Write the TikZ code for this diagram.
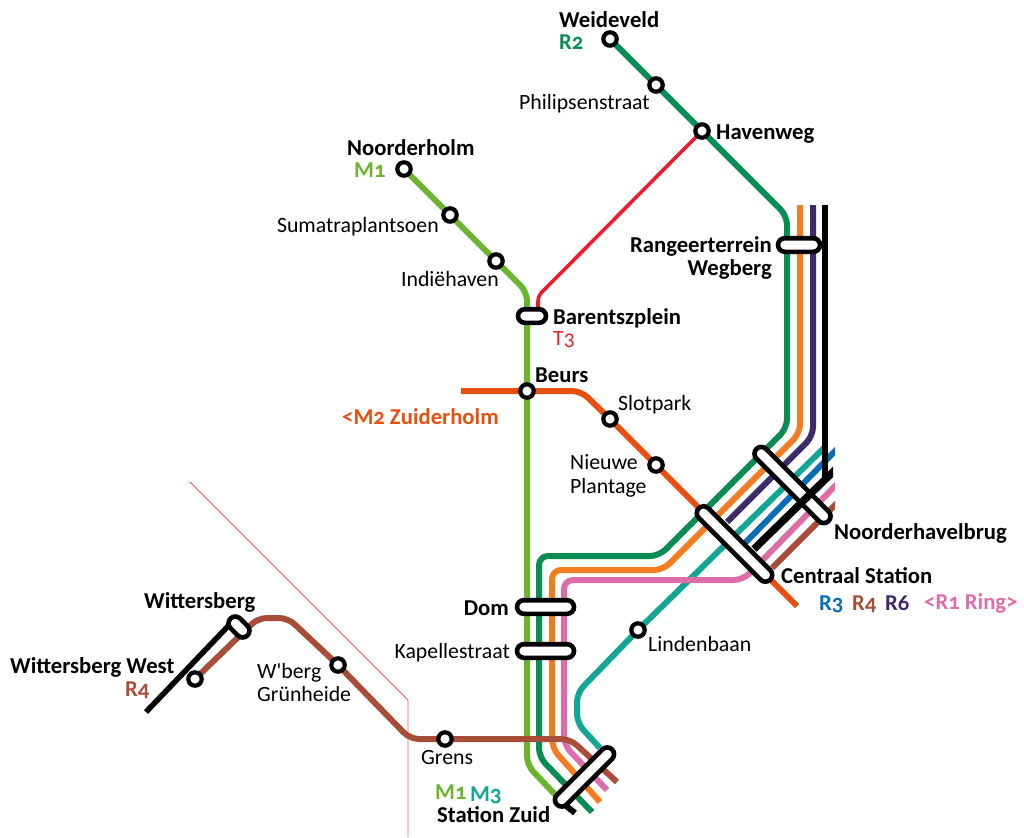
\documentclass[tikz,border=0pt]{standalone}
\usepackage{fontspec}
\newfontfamily\mapfont[Numbers=OldStyle]{Carlito}
\usetikzlibrary{calc}
\definecolor{cGreen}{HTML}{0A8C55}
\definecolor{cLime}{HTML}{6BB42E}
\definecolor{cOrange}{HTML}{F47C20}
\definecolor{cPurple}{HTML}{3C2A6B}
\definecolor{cTeal}{HTML}{14A695}
\definecolor{cBlue}{HTML}{0B6DB5}
\definecolor{cPink}{HTML}{DC6DA9}
\definecolor{cBrown}{HTML}{A84E38}
\definecolor{cRed}{HTML}{EC1C2A}
\definecolor{cMtwo}{HTML}{E6500F}
\tikzset{
 x=1pt,y=-1pt,
 line/.style={line width=6pt,rounded corners=9pt},
 stn/.style={circle,draw=black,fill=white,line width=4.2pt,minimum size=13.4pt,inner sep=0pt},
 bar/.style={rectangle,draw=black,fill=white,line width=4.6pt,minimum height=13.6pt,inner sep=0pt,rounded corners=6.8pt},
 lab/.style={font=\mapfont\fontsize{21.8}{26}\selectfont,inner sep=0pt,text=black,yshift=-0.8pt},
 labl/.style={lab,anchor=base west},
 labr/.style={lab,anchor=base east},
 bold/.style={font=\mapfont\fontsize{22.7}{26}\selectfont\bfseries},
}
\begin{document}
\begin{tikzpicture}
\useasboundingbox (0,0) rectangle (1024,837);
% station positions
\coordinate (pWeide) at (610,39);
\coordinate (pPhil) at (656,85);
\coordinate (pHaven) at (702,131);
\coordinate (pNoorder) at (404,169);
\coordinate (pSuma) at (450,215);
\coordinate (pIndie) at (496,261);
\coordinate (pBeurs) at (527,391);
\coordinate (pSlot) at (610,419);
\coordinate (pNieuwe) at (656,465);
\coordinate (pLinden) at (638,630);
\coordinate (pGrens) at (445,739);
\coordinate (pGrun) at (338,665);
\coordinate (pWest) at (195,679);
% border
\coordinate (b1) at (190,482);
\coordinate (b2) at (408,700);
\coordinate (b3) at (408,837);
\draw[line width=0.8pt,cRed!75] (b1) -- (b2) -- (b3);
% red
\coordinate (t1) at (538,296);
\coordinate (t2) at (538,316);
\draw[line,cRed,line width=3.6pt,rounded corners=5pt] (pHaven) -- (t1) -- (t2);
% M2
\coordinate (m1) at (461,391);
\coordinate (m2) at (581,391);
\coordinate (m3) at (797,606);
\draw[line,cMtwo] (m1) -- (m2) -- (pSlot) -- (pNieuwe) -- (m3);
% M1
\coordinate (l1) at (527,292);
\coordinate (l2) at (527,765);
\coordinate (l3) at (565,805);
\draw[line,cLime] (pNoorder) -- (pSuma) -- (pIndie) -- (l1) -- (pBeurs) -- (l2) -- (l3);
% green R2
\coordinate (g1) at (787,216);
\coordinate (g2) at (787,428);
\coordinate (g3) at (659,556);
\coordinate (g4) at (539,556);
\coordinate (g5) at (539,757);
\coordinate (g6) at (592,812);
\draw[line,cGreen] (pWeide) -- (pPhil) -- (pHaven) -- (g1) -- (g2) -- (g3) -- (g4) -- (g5) -- (g6);
% orange
\coordinate (o1) at (800,205);
\coordinate (o2) at (800,433);
\coordinate (o3) at (663,570);
\coordinate (o4) at (552,570);
\coordinate (o5) at (552,748);
\coordinate (o6) at (600,802);
\draw[line,cOrange] (o1) -- (o2) -- (o3) -- (o4) -- (o5) -- (o6);
% purple
\coordinate (u1) at (813,205);
\coordinate (u2) at (813,436);
\coordinate (u3) at (727,522);
\draw[line,cPurple] (u1) -- (u2) -- (u3);
% teal
\coordinate (e1) at (826,446);
\coordinate (e2) at (577,693);
\coordinate (e3) at (577,723);
\coordinate (e4) at (600,748);
\draw[line,cTeal] (e1) -- (pLinden) -- (e2) -- (e3) -- (e4);
% ends cut off vertically on the right
\begin{scope}
\clip (0,0) rectangle (835,837);
\coordinate (c1) at (840,446);
\coordinate (c2) at (745,543);
\draw[line,cBlue] (c1) -- (c2);
\coordinate (k1) at (840,481);
\coordinate (k2) at (743,580);
\coordinate (k3) at (564,580);
\coordinate (k4) at (564,745);
\coordinate (k5) at (607,790);
\draw[line,cPink] (k1) -- (k2) -- (k3) -- (k4) -- (k5);
\coordinate (r1) at (840,500);
\coordinate (r2) at (772,568);
\draw[line,cBrown] (r1) -- (r2);
\end{scope}
% brown R4
\coordinate (r3) at (258,618);
\coordinate (r4) at (288,618);
\coordinate (r5) at (410,739);
\coordinate (r6) at (570,739);
\coordinate (r7) at (617,782);
\draw[line,cBrown] (pWest) -- (r3) -- (r4) -- (pGrun) -- (r5) -- (pGrens) -- (r6) -- (r7);
% black R6 stub at Zuid
\coordinate (z1) at (565,805);
\coordinate (z2) at (575,813);
\draw[line,black,line width=6pt] (z1) -- (z2);
% black Wittersberg
\coordinate (w1) at (146,712);
\coordinate (w2) at (233,621);
\draw[line,black,line width=5.5pt] (w1) -- (w2);
% bars below black
\node[bar,minimum width=42pt] (rang) at (799,245) {};
\node[bar,minimum width=28pt] (bar) at (532,316) {};
\node[bar,minimum width=57pt] (dom) at (545.5,607) {};
\node[bar,minimum width=57pt] (kap) at (545.5,651) {};
\node[bar,minimum width=102pt,rotate=-45] (hav) at (792.5,485) {};
\node[bar,minimum width=78pt,rotate=45] (zuid) at (584.5,777) {};
\node[bar,minimum width=24pt,rotate=-45] (witt) at (239,627) {};
% black main
\coordinate (a1) at (825,205);
\coordinate (a2) at (825,478);
\coordinate (a3) at (840,465);
\coordinate (a4) at (754,549);
\draw[black,line width=6pt] (a1) -- (a2);
\begin{scope}
\clip (0,0) rectangle (833,837);
\draw[black,line width=7.5pt] (a3) -- (a4);
\end{scope}
\node[bar,minimum width=101pt,rotate=-45] (cen) at (734.5,544) {};
% stations
\foreach \n/\p in {weide/pWeide,phil/pPhil,haven/pHaven,noord/pNoorder,suma/pSuma,indie/pIndie,beurs/pBeurs,slot/pSlot,nieuwe/pNieuwe,linden/pLinden,grens/pGrens,grun/pGrun,west/pWest}
  \node[stn] (\n) at (\p) {};
% labels
\node[labl,bold] (t01) at (559,27) {Weideveld};
\node[labl,bold,text=cGreen] (t02) at (559,49) {R2};
\node[labr] (t03) at (650,109) {Philipsenstraat};
\node[labl,bold] (t04) at (716,139) {Havenweg};
\node[labl,bold] (t05) at (347,155) {Noorderholm};
\node[labl,bold,text=cLime] (t06) at (354,177) {M1};
\node[labr] (t07) at (439,232) {Sumatraplantsoen};
\node[labr] (t08) at (499,286) {Indiëhaven};
\node[labl,bold] (t09) at (553,324) {Barentszplein};
\node[labl,text=cRed] (t10) at (553,345) {T3};
\node[labl,bold] (t11) at (535,382) {Beurs};
\node[labl] (t12) at (618,410) {Slotpark};
\node[labl] (t13) at (570,469) {Nieuwe};
\node[labl] (t14) at (570,493) {Plantage};
\node[labl,bold,text=cMtwo] (t15) at (342,424) {<M2 Zuiderholm};
\node[labr,bold] (t16) at (772,252) {Rangeerterrein};
\node[labr,bold] (t17) at (772,275) {Wegberg};
\node[labl,bold] (t18) at (834,539) {Noorderhavelbrug};
\node[labl,bold] (t19) at (781,583) {Centraal Station};
\node[labl,bold,text=cBlue] (t20) at (819,610) {R3};
\node[labl,bold,text=cBrown] (t21) at (852,610) {R4};
\node[labl,bold,text=cPurple] (t22) at (885,610) {R6};
\node[labl,bold,text=cPink] (t23) at (924,609) {<R1 Ring>};
\node[labl] (t24) at (648,651) {Lindenbaan};
\node[labr,bold] (t25) at (509,615) {Dom};
\node[labr] (t26) at (510,658) {Kapellestraat};
\node[labl] (t27) at (421,764) {Grens};
\node[labl,bold,text=cLime] (t28) at (435,799) {M1};
\node[labl,bold,text=cTeal] (t29) at (470,801) {M3};
\node[labl,bold] (t30) at (437,822) {Station Zuid};
\node[labl,bold] (t31) at (144,608) {Wittersberg};
\node[labl,bold] (t32) at (10,673) {Wittersberg West};
\node[labl,bold,text=cBrown] (t33) at (125,696) {R4};
\node[labl] (t34) at (257,678) {W'berg};
\node[labl] (t35) at (257,701) {Grünheide};
\end{tikzpicture}
\end{document}
